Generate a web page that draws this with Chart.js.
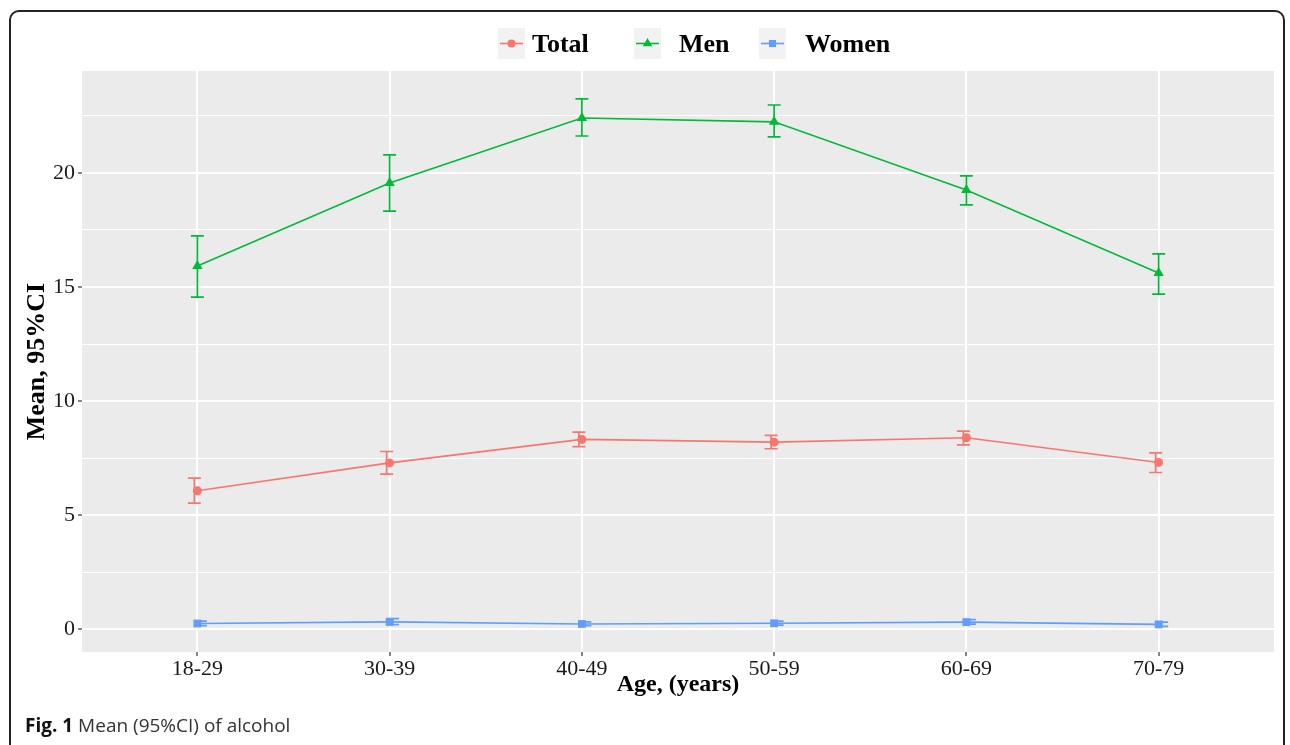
<!DOCTYPE html>
<html>
<head>
<meta charset="utf-8">
<title>Mean (95%CI) of alcohol</title>
<script src="https://cdn.jsdelivr.net/npm/chart.js@4.4.1/dist/chart.umd.min.js"></script>
<style>
    html, body { margin: 0; padding: 0; background: #fff; }
    #wrap { position: relative; width: 1290px; height: 745px; overflow: hidden; }
    #frame {
        position: absolute; left: 9px; top: 10px; width: 1276px; height: 780px;
        border: 2px solid #222; border-radius: 10px; box-sizing: border-box;
    }
    #chart { position: absolute; left: 0; top: 0; }
    #caption {
        position: absolute; left: 25px; top: 712px;
        font-family: 'Open Sans', 'Noto Sans', sans-serif; font-size: 19px; color: #333;
    }
    #caption b { color: #111; }
</style>
</head>
<body>
<div id="wrap">
    <div id="frame"></div>
    <canvas id="chart" width="1290" height="745"></canvas>
    <div id="caption"><b>Fig. 1</b> Mean (95%CI) of alcohol</div>
</div>
<script>
// ---- data ----
const ageGroups = ['18-29', '30-39', '40-49', '50-59', '60-69', '70-79'];

const totalMean  = [6.07, 7.29, 8.32, 8.20, 8.39, 7.31];
const totalLower = [5.53, 6.80, 8.00, 7.91, 8.08, 6.87];
const totalUpper = [6.62, 7.79, 8.64, 8.50, 8.68, 7.73];

const menMean  = [15.92, 19.56, 22.41, 22.24, 19.25, 15.61];
const menLower = [14.56, 18.33, 21.62, 21.58, 18.60, 14.69];
const menUpper = [17.24, 20.79, 23.25, 22.98, 19.87, 16.45];

const womenMean  = [0.25, 0.32, 0.23, 0.26, 0.31, 0.21];
const womenLower = [0.16, 0.20, 0.15, 0.18, 0.22, 0.12];
const womenUpper = [0.35, 0.46, 0.32, 0.35, 0.42, 0.31];

const yMajor = [0, 5, 10, 15, 20];
const yMinor = [2.5, 7.5, 12.5, 17.5, 22.5];

const SERIF = "'Liberation Serif', 'Times New Roman', serif";

function points(values) {
    return values.map((v, i) => ({ x: i, y: v }));
}

// grey panel behind the plot (ggplot look)
const panelBg = {
    id: 'panelBg',
    beforeDraw(chart) {
        const { ctx, chartArea: a } = chart;
        ctx.save();
        ctx.fillStyle = '#EBEBEB';
        ctx.fillRect(a.left, a.top, a.right - a.left, a.bottom - a.top);
        ctx.restore();
    }
};

// 95% CI whiskers, drawn under the points
const errorBars = {
    id: 'errorBars',
    beforeDatasetsDraw(chart) {
        const ctx = chart.ctx;
        const yScale = chart.scales.y;
        chart.data.datasets.forEach((ds, di) => {
            const meta = chart.getDatasetMeta(di);
            ctx.save();
            ctx.strokeStyle = ds.borderColor;
            ctx.lineWidth = 1.7;
            meta.data.forEach((pt, i) => {
                const x = pt.x + ds.errShift;
                const top = yScale.getPixelForValue(ds.upper[i]);
                const bot = yScale.getPixelForValue(ds.lower[i]);
                const hw = 6.5;
                ctx.beginPath();
                ctx.moveTo(x, top); ctx.lineTo(x, bot);
                ctx.moveTo(x - hw, top); ctx.lineTo(x + hw, top);
                ctx.moveTo(x - hw, bot); ctx.lineTo(x + hw, bot);
                ctx.stroke();
            });
            ctx.restore();
        });
    }
};

// legend with grey key boxes, ggplot style
const keyLeft = [498, 634, 759];
const keyTextLeft = [532, 679, 805];
const legendKeys = {
    id: 'legendKeys',
    afterDraw(chart) {
        const ctx = chart.ctx;
        chart.data.datasets.forEach((ds, i) => {
            const bx = keyLeft[i], by = 28, bw = 27, bh = 31;
            const cy = by + bh / 2;
            ctx.save();
            ctx.fillStyle = '#F2F2F2';
            ctx.fillRect(bx, by, bw, bh);
            ctx.strokeStyle = ds.borderColor;
            ctx.lineWidth = 1.6;
            ctx.beginPath();
            ctx.moveTo(bx + 2, cy);
            ctx.lineTo(bx + bw - 2, cy);
            ctx.stroke();
            ctx.fillStyle = ds.borderColor;
            Chart.helpers.drawPoint(ctx, {
                pointStyle: ds.pointStyle, radius: ds.pointRadius - 0.5, borderWidth: 0, rotation: 0
            }, bx + bw / 2, cy);
            ctx.fillStyle = '#000';
            ctx.font = 'bold 26px ' + SERIF;
            ctx.textBaseline = 'alphabetic';
            ctx.fillText(ds.label, keyTextLeft[i], 52);
            ctx.restore();
        });
    }
};

const ctx = document.getElementById('chart').getContext('2d');

new Chart(ctx, {
    type: 'line',
    data: {
        datasets: [
            {
                label: 'Total',
                data: points(totalMean),
                lower: totalLower, upper: totalUpper, errShift: -3,
                borderColor: '#F8766D', backgroundColor: '#F8766D',
                borderWidth: 1.6, pointStyle: 'circle', pointRadius: 4.5, pointBorderWidth: 0
            },
            {
                label: 'Men',
                data: points(menMean),
                lower: menLower, upper: menUpper, errShift: 0,
                borderColor: '#00BA38', backgroundColor: '#00BA38',
                borderWidth: 1.6, pointStyle: 'triangle', pointRadius: 6, pointBorderWidth: 0
            },
            {
                label: 'Women',
                data: points(womenMean),
                lower: womenLower, upper: womenUpper, errShift: 3,
                borderColor: '#619CFF', backgroundColor: '#619CFF',
                borderWidth: 1.6, pointStyle: 'rect', pointRadius: 5.5, pointBorderWidth: 0
            }
        ]
    },
    options: {
        responsive: false,
        animation: false,
        devicePixelRatio: 1,
        layout: { padding: { left: 10, right: 16, top: 71, bottom: 33 } },
        plugins: {
            legend: { display: false },
            tooltip: { enabled: false }
        },
        scales: {
            x: {
                type: 'linear',
                min: -0.6,
                max: 5.6,
                afterBuildTicks: (s) => { s.ticks = ageGroups.map((_, i) => ({ value: i })); },
                afterFit: (s) => { s.height = 60; },
                border: { display: false },
                grid: { color: '#FFFFFF', lineWidth: 2, tickColor: '#333', tickLength: 4, tickWidth: 1.2 },
                ticks: {
                    callback: (v) => ageGroups[v],
                    autoSkip: false,
                    maxRotation: 0,
                    padding: 0,
                    color: '#1a1a1a',
                    font: { family: SERIF, size: 22 }
                },
                title: {
                    display: true,
                    text: 'Age, (years)',
                    color: '#000',
                    font: { family: SERIF, size: 24, weight: 'bold' },
                    padding: { top: 0, bottom: 13 }
                }
            },
            y: {
                min: -1.0,
                max: 24.47,
                afterBuildTicks: (s) => {
                    s.ticks = yMajor.concat(yMinor).sort((a, b) => a - b).map(v => ({ value: v }));
                },
                afterFit: (s) => { s.width = 72; },
                border: { display: false },
                grid: {
                    color: '#FFFFFF',
                    lineWidth: (c) => yMajor.includes(c.tick.value) ? 2 : 1,
                    tickColor: (c) => yMajor.includes(c.tick.value) ? '#333' : 'rgba(0,0,0,0)',
                    tickLength: 4,
                    tickWidth: 1.2
                },
                ticks: {
                    callback: (v) => yMajor.includes(v) ? String(v) : '',
                    padding: 3,
                    color: '#1a1a1a',
                    font: { family: SERIF, size: 22 }
                },
                title: {
                    display: true,
                    text: 'Mean, 95%CI',
                    color: '#000',
                    font: { family: SERIF, size: 26, weight: 'bold' },
                    padding: { top: 12, bottom: 0 }
                }
            }
        }
    },
    plugins: [panelBg, errorBars, legendKeys]
});
</script>
</body>
</html>
